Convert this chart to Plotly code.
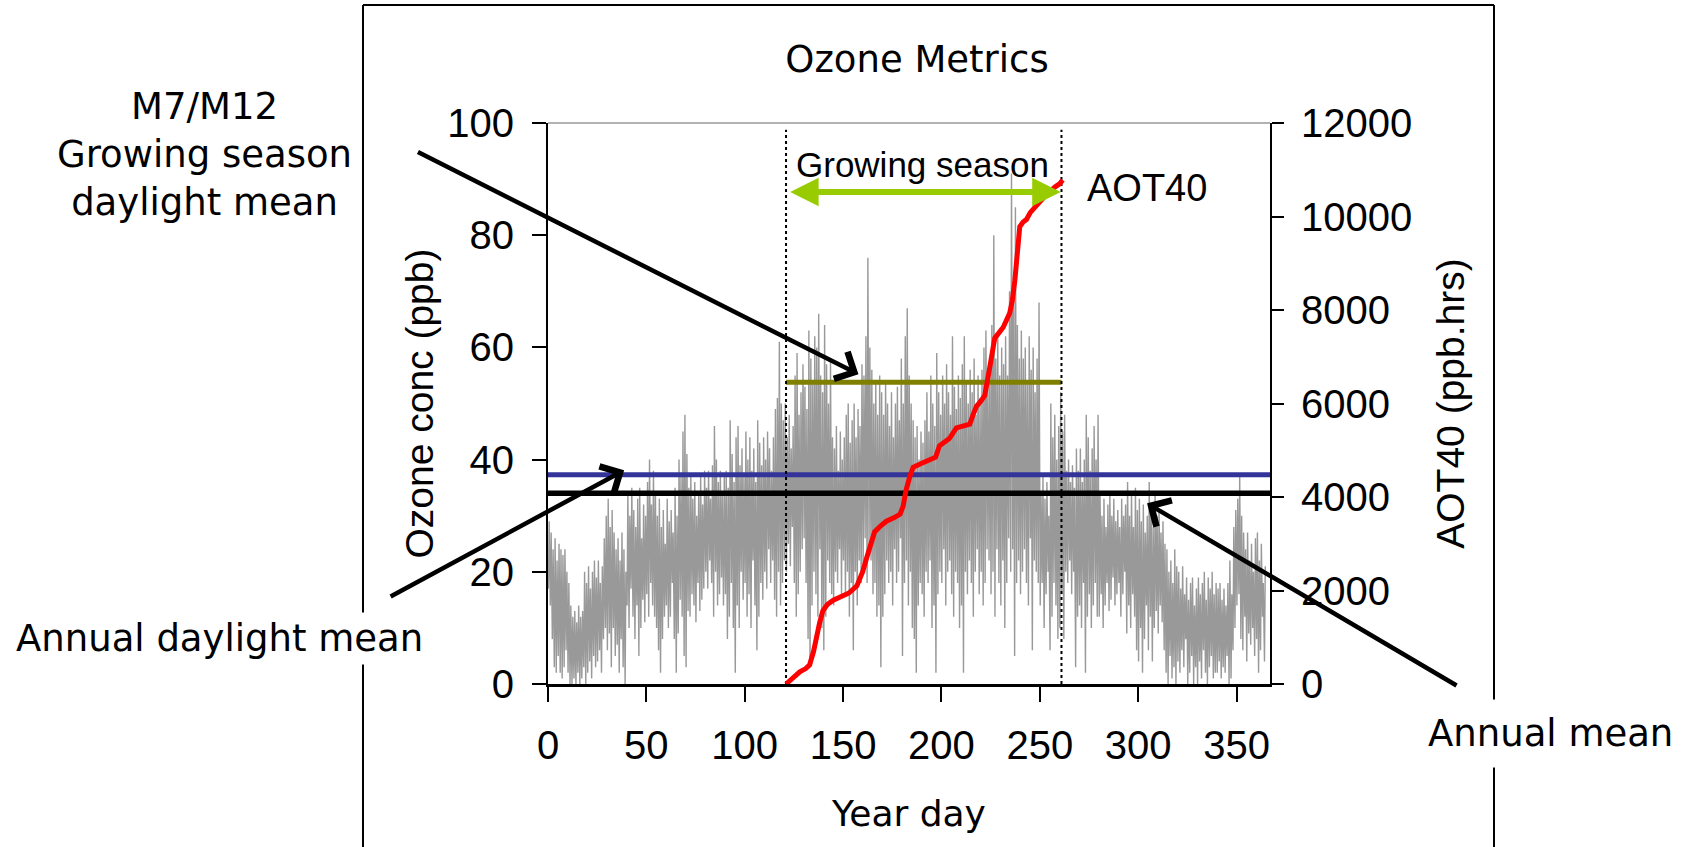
import plotly.graph_objects as go

# ---------------- data ----------------
# daily minimum / maximum of hourly ozone (ppb), year days 1..365
day_max = [
    29, 27, 24, 26, 22, 25, 24, 23, 24, 20,
    18, 14, 12, 13, 11, 14, 12, 13, 20, 18,
    21, 17, 20, 22, 19, 22, 18, 21, 26, 30,
    33, 28, 31, 27, 24, 26, 22, 27, 24, 20,
    34, 30, 35, 31, 28, 33, 35, 26, 32, 30,
    36, 40, 32, 38, 34, 30, 33, 28, 31, 25,
    33, 29, 31, 27, 35, 30, 40, 37, 45, 48,
    41, 35, 37, 33, 36, 30, 34, 37, 32, 38,
    35, 38, 33, 39, 46, 40, 36, 38, 34, 37,
    38, 35, 47, 41, 36, 44, 46, 39, 42, 37,
    45, 40, 44, 38, 42, 36, 47, 43, 39, 44,
    40, 45, 42, 38, 44, 49, 51, 61, 50, 47,
    50, 44, 48, 42, 46, 55, 59, 48, 52, 57,
    53, 49, 63, 58, 54, 62, 60, 66, 55, 52,
    64, 57, 50, 58, 44, 42, 46, 38, 45, 40,
    44, 48, 50, 43, 47, 50, 44, 49, 46, 57,
    55, 62, 76, 60, 56, 50, 54, 48, 55, 52,
    48, 54, 50, 46, 52, 44, 50, 53, 47, 58,
    50, 62, 67, 55, 50, 47, 44, 46, 40, 45,
    43, 47, 52, 45, 55, 50, 46, 59, 52, 48,
    55, 50, 57, 52, 48, 62, 53, 49, 55, 51,
    57, 62, 54, 50, 56, 52, 58, 48, 55, 51,
    56, 60, 63, 55, 58, 64, 80, 58, 62, 55,
    60, 57, 62, 55, 70, 91, 72, 85, 64, 58,
    63, 58, 60, 54, 62, 56, 60, 52, 58, 68,
    34, 37, 33, 36, 30, 50, 44, 48, 40, 46,
    52, 45, 48, 38, 40, 36, 39, 35, 42, 38,
    42, 36, 40, 48, 44, 38, 42, 46, 40, 48,
    34, 30, 33, 28, 32, 34, 30, 33, 29, 31,
    28, 33, 30, 32, 36, 30, 34, 28, 35, 31,
    33, 29, 32, 27, 30, 36, 32, 28, 34, 30,
    31, 27, 29, 25, 24, 20, 22, 18, 24, 21,
    20, 17, 21, 16, 19, 15, 18, 19, 14, 17,
    19, 16, 18, 20, 15, 19, 17, 20, 16, 18,
    17, 18, 15, 17, 14, 18, 22, 16, 28, 31,
    33, 37, 30, 27, 24, 27, 22, 25, 20, 26,
    27, 22, 25, 18, 21,
]
day_min = [
    17, 14, 8, 3, 2, 5, 2, 1, 3, 6,
    2, 0, 0, 1, 0, 2, 0, 1, 3, 0,
    2, 4, 1, 5, 3, 4, 6, 2, 8, 10,
    6, 9, 3, 10, 5, 7, 2, 8, 3, 0,
    14, 10, 17, 12, 8, 14, 5, 10, 15, 11,
    16, 12, 18, 14, 12, 10, 6, 2, 8, 12,
    14, 10, 12, 18, 8, 2, 9, 15, 12, 5,
    3, 13, 12, 16, 14, 11, 18, 13, 15, 17,
    20, 17, 22, 18, 12, 20, 14, 16, 19, 14,
    16, 8, 12, 18, 10, 2, 14, 10, 20, 15,
    18, 12, 16, 10, 22, 14, 6, 12, 18, 15,
    20, 17, 24, 18, 22, 15, 12, 20, 14, 18,
    22, 20, 25, 21, 28, 18, 12, 16, 20, 24,
    26, 18, 8, 3, 14, 20, 16, 12, 24, 10,
    6, 12, 22, 18, 16, 14, 20, 18, 24, 16,
    22, 16, 20, 12, 18, 6, 20, 14, 22, 18,
    20, 26, 18, 24, 22, 16, 18, 12, 14, 3,
    12, 16, 22, 18, 20, 14, 24, 18, 20, 26,
    5, 18, 22, 14, 20, 10, 8, 2, 14, 18,
    16, 12, 20, 18, 22, 10, 14, 2, 16, 20,
    18, 24, 14, 20, 22, 16, 12, 20, 18, 10,
    14, 2, 20, 16, 22, 18, 12, 20, 24, 16,
    20, 14, 18, 24, 22, 16, 20, 12, 24, 18,
    14, 22, 10, 18, 26, 20, 24, 5, 18, 22,
    16, 20, 24, 18, 14, 26, 6, 22, 20, 18,
    14, 18, 10, 16, 20, 6, 12, 18, 14, 8,
    10, 16, 8, 20, 18, 22, 16, 20, 3, 12,
    14, 10, 18, 2, 12, 16, 10, 14, 18, 12,
    12, 16, 10, 14, 18, 13, 15, 19, 14, 16,
    18, 12, 16, 20, 9, 14, 10, 16, 12, 6,
    4, 10, 2, 8, 14, 6, 12, 4, 10, 13,
    9, 14, 11, 6, 2, 0, 5, 1, 3, 0,
    4, 2, 6, 3, 8, 0, 2, 5, 0, 3,
    0, 4, 1, 6, 2, 0, 3, 5, 1, 2,
    2, 4, 1, 3, 2, 5, 0, 1, 6, 10,
    14, 16, 8, 6, 12, 4, 9, 7, 10, 5,
    8, 2, 6, 12, 4,
]

# cumulative AOT40 (ppb.hrs) over the growing season
aot_days = [121, 124, 128, 131, 133, 135, 136.5, 138, 139.7, 142,
            145, 149, 153, 157, 160, 162, 163.5, 166, 169, 172,
            176, 179, 180.5, 182, 184, 185.6, 190, 194, 197, 199,
            202, 204, 207.6, 211, 214.4, 216, 217.8, 220, 222, 224.6,
            227.1, 229, 231.4, 234.7, 236, 237.3, 239.8, 241.5, 243.2, 245.2,
            248, 250, 254, 258, 260.2, 261.6]
aot_vals = [0, 120, 260, 330, 411, 700, 1025, 1300, 1563, 1700,
            1793, 1880, 1947, 2100, 2408, 2700, 2945, 3253, 3380, 3482,
            3560, 3636, 3800, 4150, 4450, 4635, 4720, 4789, 4850, 5095,
            5180, 5249, 5480, 5520, 5557, 5750, 5940, 6050, 6171, 6785,
            7399, 7500, 7630, 7936, 8200, 8629, 9782, 9880, 9936, 10088,
            10220, 10319, 10500, 10640, 10703, 10780]

growing_season = [121, 261]
m7_m12 = 53.8            # growing season daylight mean (ppb)
annual_daylight_mean = 37.3
annual_mean = 34.0
year_span = [0, 367]

x_ticks = [0, 50, 100, 150, 200, 250, 300, 350]
y_ticks = [0, 20, 40, 60, 80, 100]
y2_ticks = [0, 2000, 4000, 6000, 8000, 10000, 12000]
y2_labels = ["0", "2000", "4000", "6000", "8000", "10000", "12000"]

# ---------------- figure ----------------
ARIAL = "Liberation Sans, Arial, sans-serif"
TREB = "DejaVu Sans, sans-serif"

gx, gy = [], []
for i, (lo, hi) in enumerate(zip(day_min, day_max)):
    gx += [i + 0.2, i + 0.6]
    gy += [lo, hi]

fig = go.Figure()
fig.add_trace(go.Scatter(x=gx, y=gy, mode="lines",
                         line=dict(color="#999999", width=1.4), hoverinfo="skip"))
fig.add_trace(go.Scatter(x=year_span, y=[annual_daylight_mean] * 2, mode="lines",
                         line=dict(color="#333399", width=5)))
fig.add_trace(go.Scatter(x=year_span, y=[annual_mean] * 2, mode="lines",
                         line=dict(color="#000000", width=5.5)))
fig.add_trace(go.Scatter(x=growing_season, y=[m7_m12] * 2, mode="lines",
                         line=dict(color="#808000", width=5)))
for d in growing_season:
    fig.add_trace(go.Scatter(x=[d, d], y=[0, 98.8], mode="lines",
                             line=dict(color="#000000", width=2, dash="dot")))
fig.add_trace(go.Scatter(x=aot_days, y=aot_vals, mode="lines", yaxis="y2",
                         line=dict(color="#ff0000", width=5)))

L, R, T, B = 548, 412, 123, 163
PW, PH = 1682 - L - R, 847 - T - B


def px(xp):
    return (xp - L) / PW


def py(yp):
    return (847 - B - yp) / PH


fig.update_layout(
    width=1682, height=847,
    margin=dict(l=L, r=R, t=T, b=B, pad=0),
    paper_bgcolor="white", plot_bgcolor="white",
    showlegend=False,
    title=dict(text="Ozone Metrics", x=px(917), y=1 - 59 / 847,
               xanchor="center", yanchor="middle", xref="paper", yref="container",
               font=dict(family=TREB, size=37, color="black")),
    xaxis=dict(range=year_span, tickvals=x_ticks, ticks="outside", ticklen=15,
               tickwidth=2, tickcolor="black", showline=True, linecolor="black",
               linewidth=2.5, showgrid=False, zeroline=False,
               tickfont=dict(family=ARIAL, size=40, color="black"),
               ticklabelstandoff=9,
               title=dict(text="Year day", standoff=36,
                          font=dict(family=TREB, size=36, color="black"))),
    yaxis=dict(range=[0, 100], tickvals=y_ticks, ticks="outside", ticklen=14,
               tickwidth=2, tickcolor="black", showline=True, linecolor="black",
               linewidth=2, showgrid=False, zeroline=False,
               tickfont=dict(family=ARIAL, size=40, color="black"),
               ticklabelstandoff=10,
               title=dict(text="Ozone conc (ppb)", standoff=2,
                          font=dict(family=ARIAL, size=39, color="black"))),
    yaxis2=dict(range=[0, 12000], tickvals=y2_ticks, ticktext=y2_labels,
                overlaying="y", side="right",
                ticks="outside", ticklen=12, tickwidth=2, tickcolor="black",
                showline=True, linecolor="black", linewidth=2, showgrid=False,
                zeroline=False, tickfont=dict(family=ARIAL, size=40, color="black"),
                ticklabelstandoff=9,
                title=dict(text="AOT40 (ppb.hrs)", standoff=25,
                           font=dict(family=ARIAL, size=39, color="black"))),
    yaxis3=dict(range=[0, 12000], tickvals=y2_ticks, overlaying="y", side="right",
                anchor="x", ticks="inside", ticklen=14, tickwidth=2,
                tickcolor="black", showticklabels=False, showline=False,
                showgrid=False, zeroline=False),
)

# frame lines (decoration)
frame = dict(type="line", xref="paper", yref="paper", line=dict(color="black", width=2))
fig.add_shape(**frame, x0=px(363), x1=px(363), y0=py(5), y1=py(860))
fig.add_shape(**frame, x0=px(1494), x1=px(1494), y0=py(5), y1=py(860))
fig.add_shape(**frame, x0=px(363), x1=px(1494), y0=py(5), y1=py(5))
fig.add_shape(type="line", xref="paper", yref="paper", x0=0, x1=1, y0=1, y1=1,
              line=dict(color="#999999", width=1.5))

# growing season double arrow
fig.add_annotation(x=260.6, y=87.7, ax=122.3, ay=87.7, axref="x", ayref="y",
                   xref="x", yref="y", text="", showarrow=True,
                   arrowhead=2, startarrowhead=2, arrowside="end+start",
                   arrowsize=0.95, startarrowsize=0.95, arrowwidth=6,
                   arrowcolor="#99cc00")
fig.add_annotation(x=190.3, y=92.6, xref="x", yref="y", text="Growing season",
                   showarrow=False, xanchor="center", yanchor="middle",
                   font=dict(family=ARIAL, size=35, color="black"))
fig.add_annotation(x=304.3, y=88.5, xref="x", yref="y", text="AOT40",
                   showarrow=False, xanchor="center", yanchor="middle",
                   font=dict(family=ARIAL, size=38, color="black"))

# pointer arrows
arrow = dict(xref="x", yref="y", text="", showarrow=True, arrowhead=4,
             arrowsize=1.3, arrowwidth=4.5, arrowcolor="black")
fig.add_annotation(**arrow, x=157.8, y=55.2, ax=-442, ay=-223)
fig.add_annotation(**arrow, x=38.7, y=38.1, ax=-235, ay=127)
fig.add_annotation(**arrow, x=304.5, y=32.2, ax=311, ay=183)

# text labels
txt = dict(xref="paper", yref="paper", showarrow=False, xanchor="center",
           yanchor="middle", font=dict(family=TREB, size=37, color="black"))
fig.add_annotation(**txt, x=px(204), y=py(154.5),
                   text="M7/M12<br>Growing season<br>daylight mean", align="center")
fig.add_annotation(**txt, x=px(219), y=py(638), text="Annual daylight mean",
                   bgcolor="white", borderpad=4)
fig.add_annotation(**txt, x=px(1550), y=py(733), text="Annual mean",
                   bgcolor="white", borderpad=12)

fig.write_html("out.html")
